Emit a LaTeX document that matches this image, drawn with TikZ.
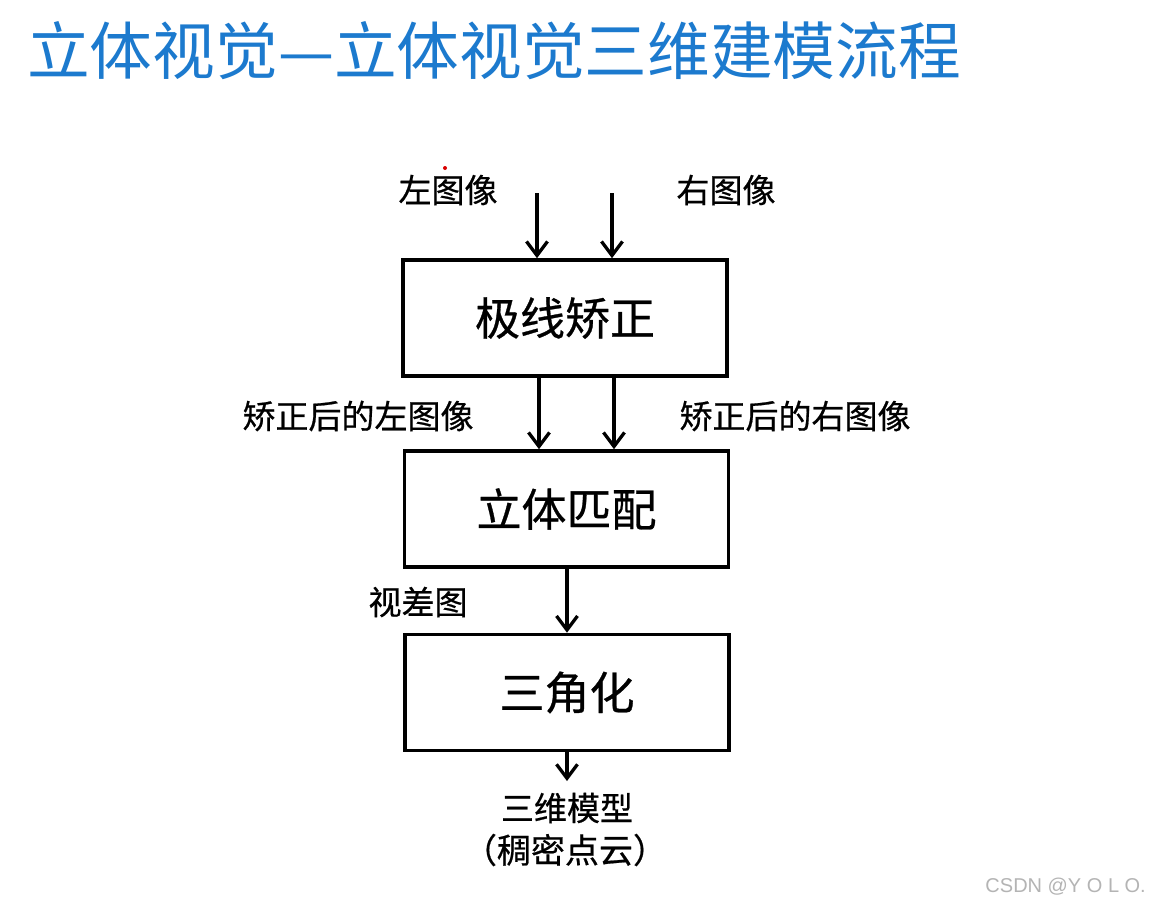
\documentclass[tikz,border=0pt]{standalone}
\usepackage{fontspec}
\setmainfont{Liberation Sans}
\newfontfamily\cjk{Noto Sans CJK SC}
\newfontfamily\cjkb[FakeBold=0.6]{Noto Sans CJK SC}
\usetikzlibrary{arrows.meta}
\definecolor{titleblue}{RGB}{28,122,206}
\definecolor{wmgray}{RGB}{180,180,180}
\tikzset{
  stagebox/.style={draw=black, line width=3.6pt, fill=white, minimum width=324pt, minimum height=116pt, inner sep=0pt, font=\cjkb\fontsize{45}{50}\selectfont},
  lbl/.style={inner sep=0pt, font=\cjkb\fontsize{33}{38}\selectfont},
  arr/.style={line width=3.3pt, -{Straight Barb[length=14pt,width=21pt,line width=3.3pt]}}
}
\begin{document}
\begin{tikzpicture}[x=1pt,y=-1pt]
\useasboundingbox (0,0) rectangle (1150,908);
\fill[white] (0,0) rectangle (1150,908);
% title
\node[anchor=west, inner sep=0pt, text=titleblue, font=\cjk\fontsize{62.7}{68}\selectfont] (title) at (27,51) {立体视觉—立体视觉三维建模流程};
% boxes
\node[stagebox] (b1) at (565,318) {极线矫正};
\node[stagebox] (b2) at (566.5,509) {立体匹配};
\node[stagebox] (b3) at (567,692.5) {三角化};
% labels
\node[lbl] (lin) at (448,190) {左图像};
\node[lbl] (rin) at (726,190) {右图像};
\node[lbl] (lrect) at (358,416) {矫正后的左图像};
\node[lbl] (rrect) at (795,416) {矫正后的右图像};
\node[lbl] (disp) at (418,602) {视差图};
\node[lbl] (model) at (567,808) {三维模型};
\node[lbl, font=\cjkb\fontsize{34}{38}\selectfont] (cloud) at (565,850) {（稠密点云）};
% arrow helper coordinates
\coordinate (lt) at (537,193);
\coordinate (rt) at (612,193);
\coordinate (xl) at (539,0);
\coordinate (xr) at (614,0);
\coordinate (xm) at (567,0);
\coordinate (outend) at (567,781);
% connectors
\draw[arr] (lt) -- (lt |- b1.north);
\draw[arr] (rt) -- (rt |- b1.north);
\draw[arr] (b1.south -| xl) -- (b2.north -| xl);
\draw[arr] (b1.south -| xr) -- (b2.north -| xr);
\draw[arr] (b2.south -| xm) -- (b3.north -| xm);
\draw[arr] (b3.south -| xm) -- (outend);
% small red mark
\fill[red!85!black] (445,168) circle (2pt);
% watermark
\node[anchor=east, inner sep=0pt, text=wmgray, font=\fontsize{20}{24}\selectfont] (wm) at (1146,887) {CSDN @Y O L O.};
\end{tikzpicture}
\end{document}
